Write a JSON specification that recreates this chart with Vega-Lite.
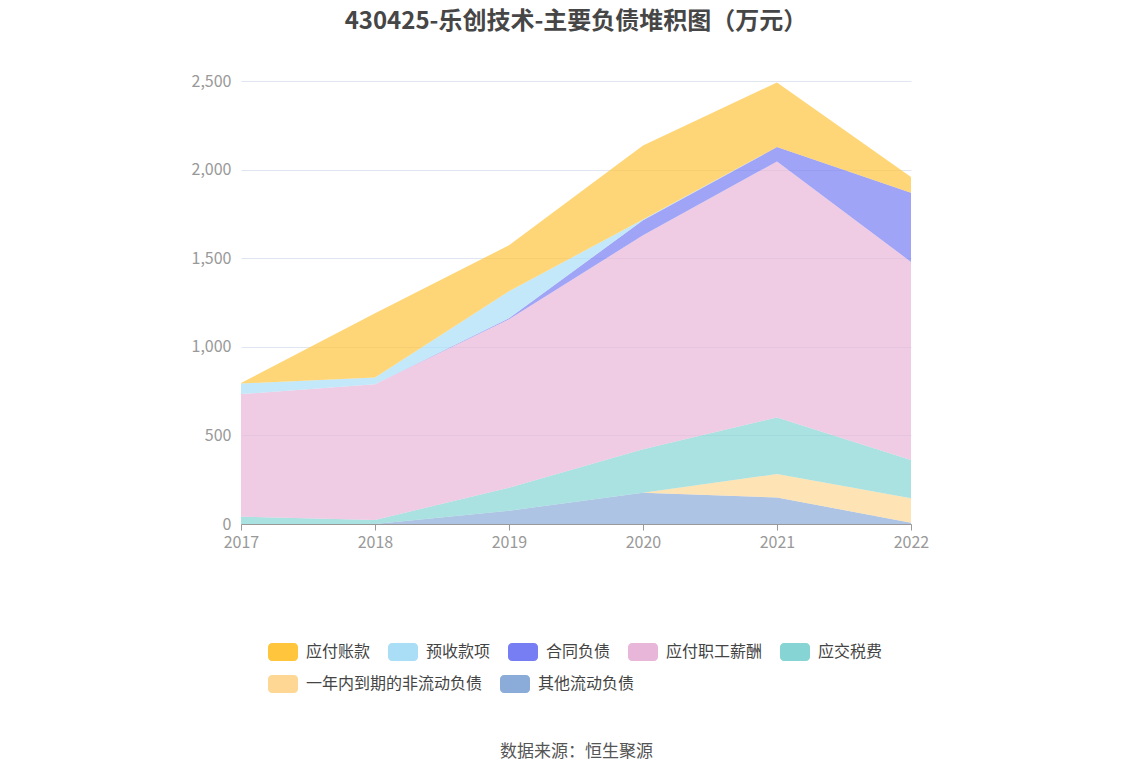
{
  "$schema": "https://vega.github.io/schema/vega-lite/v6.json",
  "autosize": "none",
  "width": 670,
  "height": 443,
  "padding": {"left": 241, "top": 81, "right": 237, "bottom": 252},
  "background": "white",
  "title": {
    "text": "430425-乐创技术-主要负债堆积图（万元）",
    "anchor": "middle",
    "offset": 39,
    "fontSize": 24,
    "fontWeight": "bold",
    "font": "Noto Sans CJK SC",
    "color": "#464646"
  },
  "config": {
    "font": "Noto Sans CJK SC",
    "view": {"stroke": null},
    "legend": {
      "title": null,
      "orient": "none",
      "direction": "horizontal",
      "columnPadding": 16,
      "labelOffset": 8,
      "labelFontSize": 16,
      "labelColor": "#444444",
      "labelLimit": 400,
      "symbolType": "M-0.73,-0.6H0.73A0.27,0.27,0,0,1,1,-0.33V0.33A0.27,0.27,0,0,1,0.73,0.6H-0.73A0.27,0.27,0,0,1,-1,0.33V-0.33A0.27,0.27,0,0,1,-0.73,-0.6Z",
      "symbolSize": 900,
      "symbolOpacity": 1,
      "symbolStrokeWidth": 0
    }
  },
  "data": {
    "values": [
      {"year": "2017", "series": "其他流动负债", "k": 1, "value": 0},
      {"year": "2017", "series": "一年内到期的非流动负债", "k": 2, "value": 0},
      {"year": "2017", "series": "应交税费", "k": 3, "value": 41},
      {"year": "2017", "series": "应付职工薪酬", "k": 4, "value": 692},
      {"year": "2017", "series": "合同负债", "k": 5, "value": 0},
      {"year": "2017", "series": "预收款项", "k": 6, "value": 60},
      {"year": "2017", "series": "应付账款", "k": 7, "value": 3},
      {"year": "2018", "series": "其他流动负债", "k": 1, "value": 0},
      {"year": "2018", "series": "一年内到期的非流动负债", "k": 2, "value": 0},
      {"year": "2018", "series": "应交税费", "k": 3, "value": 23},
      {"year": "2018", "series": "应付职工薪酬", "k": 4, "value": 766},
      {"year": "2018", "series": "合同负债", "k": 5, "value": 0},
      {"year": "2018", "series": "预收款项", "k": 6, "value": 38},
      {"year": "2018", "series": "应付账款", "k": 7, "value": 362},
      {"year": "2019", "series": "其他流动负债", "k": 1, "value": 75},
      {"year": "2019", "series": "一年内到期的非流动负债", "k": 2, "value": 0},
      {"year": "2019", "series": "应交税费", "k": 3, "value": 130},
      {"year": "2019", "series": "应付职工薪酬", "k": 4, "value": 951},
      {"year": "2019", "series": "合同负债", "k": 5, "value": 5},
      {"year": "2019", "series": "预收款项", "k": 6, "value": 152},
      {"year": "2019", "series": "应付账款", "k": 7, "value": 260},
      {"year": "2020", "series": "其他流动负债", "k": 1, "value": 176},
      {"year": "2020", "series": "一年内到期的非流动负债", "k": 2, "value": 0},
      {"year": "2020", "series": "应交税费", "k": 3, "value": 246},
      {"year": "2020", "series": "应付职工薪酬", "k": 4, "value": 1207},
      {"year": "2020", "series": "合同负债", "k": 5, "value": 85},
      {"year": "2020", "series": "预收款项", "k": 6, "value": 5},
      {"year": "2020", "series": "应付账款", "k": 7, "value": 417},
      {"year": "2021", "series": "其他流动负债", "k": 1, "value": 150},
      {"year": "2021", "series": "一年内到期的非流动负债", "k": 2, "value": 132},
      {"year": "2021", "series": "应交税费", "k": 3, "value": 319},
      {"year": "2021", "series": "应付职工薪酬", "k": 4, "value": 1445},
      {"year": "2021", "series": "合同负债", "k": 5, "value": 81},
      {"year": "2021", "series": "预收款项", "k": 6, "value": 0},
      {"year": "2021", "series": "应付账款", "k": 7, "value": 365},
      {"year": "2022", "series": "其他流动负债", "k": 1, "value": 7},
      {"year": "2022", "series": "一年内到期的非流动负债", "k": 2, "value": 138},
      {"year": "2022", "series": "应交税费", "k": 3, "value": 216},
      {"year": "2022", "series": "应付职工薪酬", "k": 4, "value": 1118},
      {"year": "2022", "series": "合同负债", "k": 5, "value": 391},
      {"year": "2022", "series": "预收款项", "k": 6, "value": 0},
      {"year": "2022", "series": "应付账款", "k": 7, "value": 88}
    ]
  },
  "encoding": {
    "x": {
      "field": "year",
      "type": "ordinal",
      "scale": {"type": "point", "padding": 0},
      "axis": {
        "title": "数据来源：恒生聚源",
        "titleFontSize": 17,
        "titleFontWeight": "normal",
        "titleColor": "#555555",
        "titlePadding": 193,
        "labelAngle": 0,
        "labelFontSize": 16,
        "labelColor": "#999999",
        "labelPadding": 4,
        "domainColor": "#999999",
        "tickColor": "#999999",
        "tickSize": 6,
        "grid": false
      }
    }
  },
  "layer": [
    {
      "mark": {"type": "area", "opacity": 0.7, "interpolate": "linear"},
      "encoding": {
        "y": {
          "field": "value",
          "type": "quantitative",
          "stack": "zero",
          "scale": {"domain": [0, 2500], "nice": false},
          "axis": {
            "title": null,
            "values": [0, 500, 1000, 1500, 2000, 2500],
            "format": ",d",
            "labelFontSize": 16,
            "labelColor": "#999999",
            "labelPadding": 10,
            "domain": false,
            "ticks": false,
            "gridColor": "#e0e6f1"
          }
        },
        "color": {
          "field": "series",
          "type": "nominal",
          "scale": {
            "domain": ["应付账款", "预收款项", "合同负债", "应付职工薪酬", "应交税费", "一年内到期的非流动负债", "其他流动负债"],
            "range": ["#ffc53d", "#a9def6", "#777df2", "#e8b6d8", "#86d4d4", "#fed795", "#8babd8"]
          },
          "legend": null
        },
        "order": {"field": "k", "type": "quantitative"}
      }
    },
    {
      "transform": [{"filter": "datum.k >= 3"}],
      "mark": {"type": "point", "filled": true, "opacity": 0},
      "encoding": {
        "y": {"field": "value", "type": "quantitative", "stack": null, "scale": {"domain": [0, 2500], "nice": false}},
        "color": {
          "field": "series",
          "type": "nominal",
          "scale": {
            "domain": ["应付账款", "预收款项", "合同负债", "应付职工薪酬", "应交税费"],
            "range": ["#ffc53d", "#a9def6", "#777df2", "#e8b6d8", "#86d4d4"]
          },
          "legend": {"legendX": 27, "legendY": 556, "columns": 5}
        }
      }
    },
    {
      "transform": [{"filter": "datum.k <= 2"}],
      "mark": {"type": "point", "filled": true, "opacity": 0},
      "encoding": {
        "y": {"field": "value", "type": "quantitative", "stack": null, "scale": {"domain": [0, 2500], "nice": false}},
        "color": {
          "field": "series",
          "type": "nominal",
          "scale": {
            "domain": ["一年内到期的非流动负债", "其他流动负债"],
            "range": ["#fed795", "#8babd8"]
          },
          "legend": {"legendX": 27, "legendY": 588, "columns": 2}
        }
      }
    }
  ],
  "resolve": {
    "scale": {"color": "independent"},
    "legend": {"color": "independent"}
  }
}
